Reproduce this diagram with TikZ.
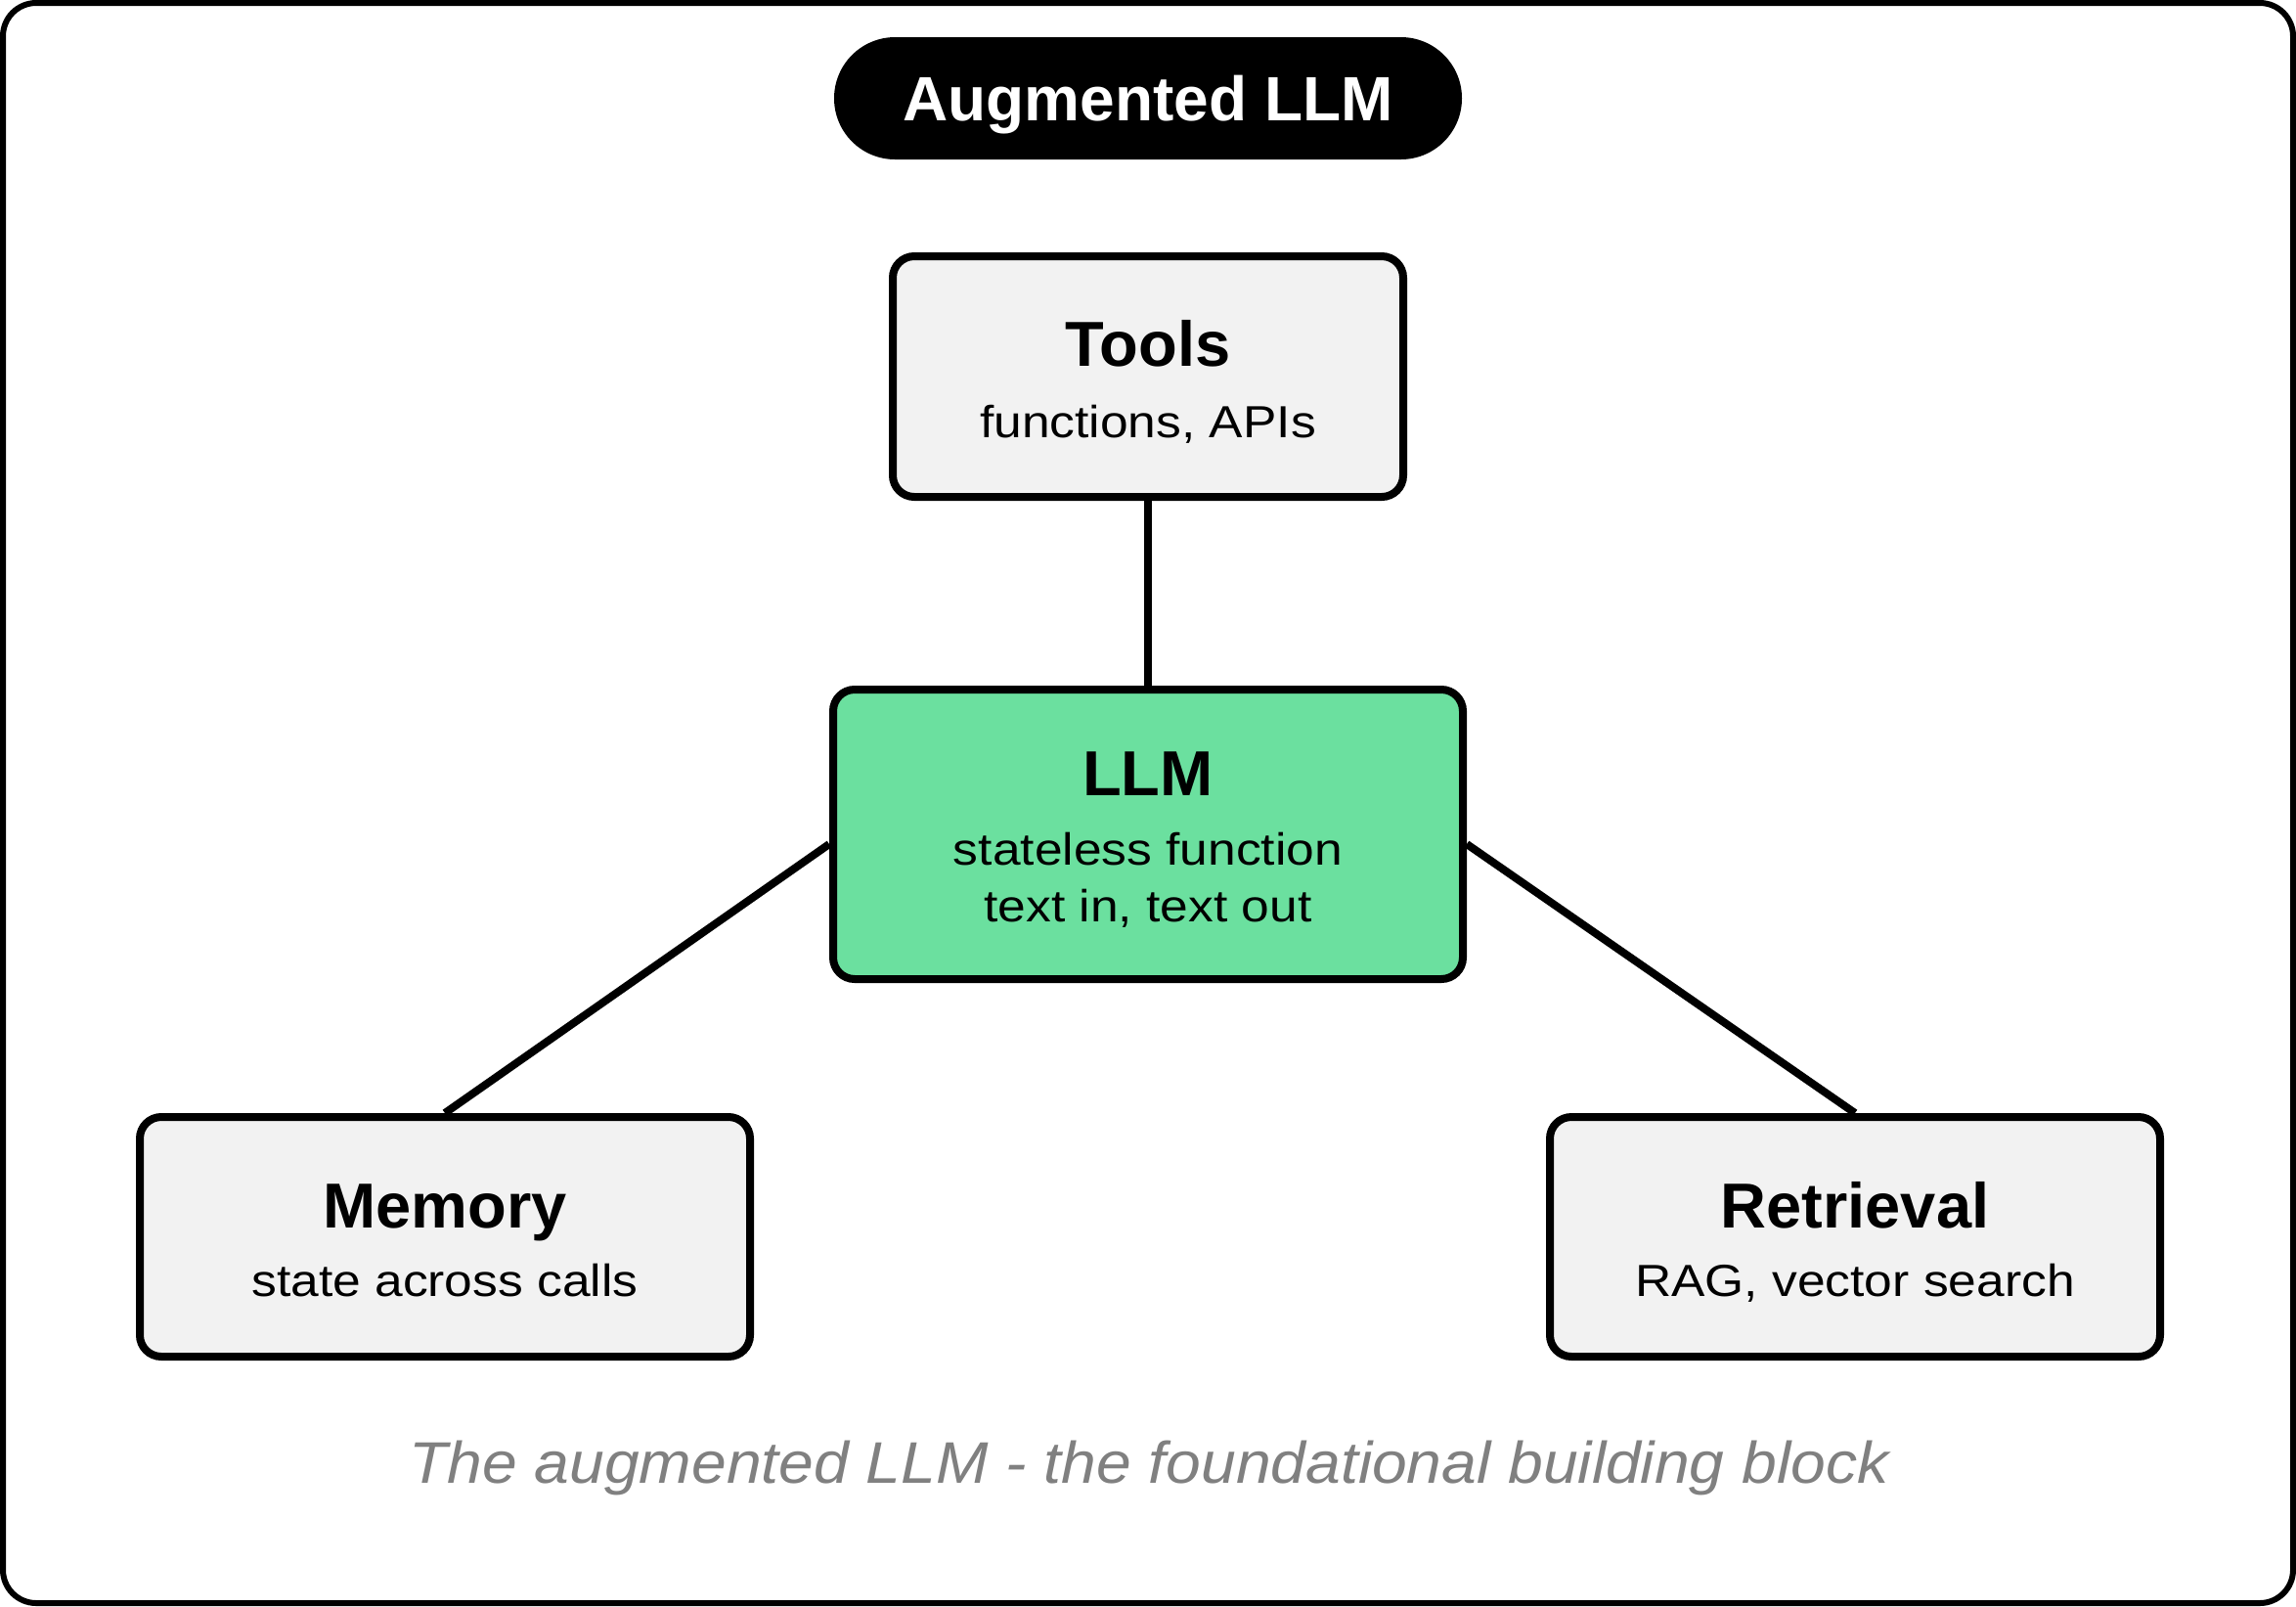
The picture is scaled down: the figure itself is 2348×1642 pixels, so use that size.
\documentclass[tikz,border=0pt]{standalone}
\usepackage{fontspec}
\setmainfont{Liberation Sans}
\newfontfamily\regf{Liberation Sans}[FakeStretch=1.12]
\newfontfamily\capf{Liberation Sans}[FakeStretch=1.07]
\definecolor{llmgreen}{HTML}{6BE09F}
\definecolor{boxgray}{HTML}{F2F2F2}
\definecolor{capgray}{HTML}{808080}
\tikzset{
  outerframe/.style={draw=black, line width=6pt, rounded corners=34pt, fill=white, inner sep=0pt},
  pill/.style={fill=black, rounded corners=62.4pt, inner sep=0pt, minimum width=642pt, minimum height=125pt},
  cardbox/.style={draw=black, line width=8pt, rounded corners=22pt, fill=boxgray, inner sep=0pt},
  llmbox/.style={cardbox, fill=llmgreen},
  headtext/.style={anchor=base, inner sep=0pt, font=\fontsize{65}{70}\selectfont\bfseries},
  subtext/.style={anchor=base, inner sep=0pt, font=\regf\fontsize{46}{50}\selectfont},
  titletext/.style={anchor=base, inner sep=0pt, text=white, font=\fontsize{64}{68}\selectfont\bfseries},
  captext/.style={anchor=base, inner sep=0pt, text=capgray, font=\capf\itshape\fontsize{60}{64}\selectfont},
  link/.style={draw=black, line width=8pt}
}
\begin{document}
\begin{tikzpicture}[x=1pt,y=-1pt]
\useasboundingbox (0,0) rectangle (2348,1642);
% frame
\node[outerframe, minimum width=2342pt, minimum height=1636pt] (frame) at (1174,821) {};
% title pill
\node[pill] (pill) at (1174,100.5) {};
\node[titletext] (ttitle) at (1174,123) {Augmented LLM};
% boxes
\node[cardbox, minimum width=522pt, minimum height=246pt] (tools) at (1174,385) {};
\node[llmbox, minimum width=644pt, minimum height=296pt] (llm) at (1174,853) {};
\node[cardbox, minimum width=624pt, minimum height=245pt] (memory) at (455,1264.5) {};
\node[cardbox, minimum width=624pt, minimum height=245pt] (retrieval) at (1897,1264.5) {};
% connectors
\draw[link] (tools.south) -- (llm.north);
\draw[link] ([yshift=-10pt]llm.west) -- (memory.north);
\draw[link] ([yshift=-10pt]llm.east) -- (retrieval.north);
% texts
\node[headtext] (ttools) at (1174,374) {Tools};
\node[subtext] (stools) at (1174,447) {functions, APIs};
\node[headtext] (tllm) at (1174,813) {LLM};
\node[subtext] (sllma) at (1174,884) {stateless function};
\node[subtext] (sllmb) at (1174,942) {text in, text out};
\node[headtext] (tmem) at (455,1255) {Memory};
\node[subtext] (smem) at (455,1325) {state across calls};
\node[headtext] (tret) at (1897,1255) {Retrieval};
\node[subtext] (sret) at (1897,1325) {RAG, vector search};
% caption
\node[captext] (caption) at (1175,1516) {The augmented LLM - the foundational building block};
\end{tikzpicture}
\end{document}
